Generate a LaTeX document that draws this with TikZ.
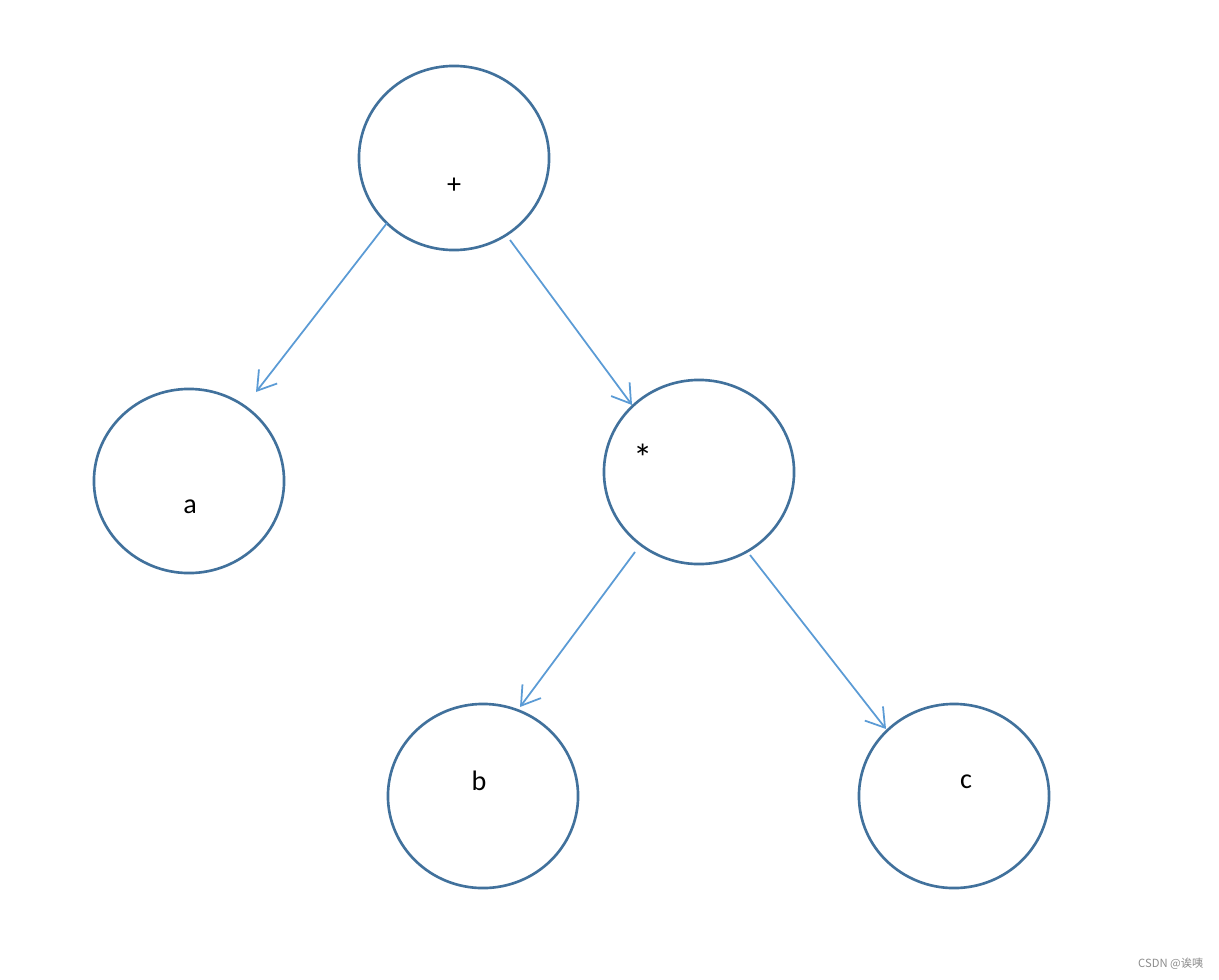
\documentclass[tikz,border=0pt]{standalone}
\usepackage{fontspec}
\setmainfont{Carlito}
\newfontfamily\cjk{Noto Sans CJK SC}
\usetikzlibrary{shapes.geometric,arrows.meta}
\definecolor{ringblue}{HTML}{41719C}
\definecolor{arrowblue}{HTML}{5B9BD5}
\tikzset{
  treenode/.style={ellipse, draw=ringblue, line width=0.75pt, minimum width=1.90cm, minimum height=1.84cm, inner sep=0pt},
  lbl/.style={font=\fontsize{8}{9}\selectfont, inner sep=0pt},
  edge/.style={draw=arrowblue, line width=0.5pt, -{Straight Barb[length=1.8mm,width=2.3mm,line width=0.5pt]}}
}
\begin{document}
\begin{tikzpicture}[x=0.01cm,y=-0.01cm]
\useasboundingbox (0,0) rectangle (1219,979);
\node[treenode] (plus) at (454,158) {};
\node[treenode] (a) at (189,481) {};
\node[treenode] (mul) at (699,472) {};
\node[treenode] (b) at (483,796) {};
\node[treenode] (c) at (954,796) {};
\node[lbl] (lplus) at (454,186) {+};
\node[lbl] (la) at (190,507) {a};
\node[lbl, font=\fontsize{11}{12}\selectfont] (lmul) at (643,458) {*};
\node[lbl] (lb) at (479,781) {b};
\node[lbl] (lc) at (966,782) {c};
\coordinate (s1) at (387,223);
\coordinate (e1) at (256,392);
\coordinate (s2) at (510,240);
\coordinate (e2) at (632,405);
\coordinate (s3) at (635,552);
\coordinate (e3) at (520,707);
\coordinate (s4) at (750,555);
\coordinate (e4) at (886,729);
\draw[edge] (s1) -- (e1);
\draw[edge] (s2) -- (e2);
\draw[edge] (s3) -- (e3);
\draw[edge] (s4) -- (e4);
\node[anchor=east, inner sep=0pt, text=black!45, font=\cjk\fontsize{3.2}{4}\selectfont] (wm) at (1204,964) {CSDN @诶咦};
\end{tikzpicture}
\end{document}
